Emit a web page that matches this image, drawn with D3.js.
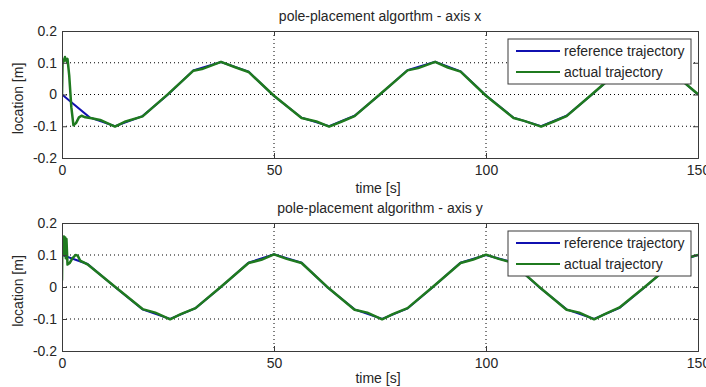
<!DOCTYPE html>
<html>
<head>
<meta charset="utf-8">
<script src="https://cdn.jsdelivr.net/npm/d3@7"></script>
<style>
  body { margin: 0; background: #fff; }
  svg { display: block; font-family: 'Liberation Sans', Arial, sans-serif; }
</style>
</head>
<body>
<div id="chart"></div>
<script>
// tick labels
const xTicks = [0, 50, 100, 150]
const yTicks = [-0.2, -0.1, 0, 0.1, 0.2]
const legendLabels = ['reference trajectory', 'actual trajectory']
const titles = ['pole-placement algorthm - axis x', 'pole-placement algorithm - axis y']

// axis x: [time, location]
const refX = [
  [0, 0], [6.5, -0.072], [12.5, -0.1], [19, -0.068], [25, 0], [31, 0.076],
  [37.5, 0.102], [44, 0.072], [50, -0.005], [56.5, -0.073], [63, -0.1],
  [69, -0.067], [75, 0], [81.5, 0.077], [88, 0.103], [94, 0.073], [100, -0.003],
  [106.5, -0.073], [113, -0.1], [119, -0.067], [125, 0], [131, 0.07],
  [137.5, 0.1], [144, 0.07], [150, 0]
]
const actX = [
  [0, 0.0], [0.15, 0.11], [0.4, 0.104], [0.7, 0.118], [1.0, 0.106], [1.3, 0.112],
  [1.7, 0.06], [2.2, -0.04], [2.7, -0.097], [3.3, -0.09], [4.0, -0.072],
  [4.6, -0.067], [5.5, -0.072], [7, -0.075], [9, -0.08], [12.5, -0.101],
  [15, -0.085], [19, -0.069], [25, 0.001], [31, 0.075], [33, 0.08],
  [37.5, 0.103], [41, 0.085], [44, 0.071], [50, -0.004], [56.5, -0.074],
  [60, -0.085], [63, -0.101], [66, -0.085], [69, -0.068], [75, 0.001],
  [81.5, 0.076], [84, 0.083], [88, 0.103], [91, 0.085], [94, 0.072],
  [100, -0.004], [106.5, -0.074], [109, -0.083], [113, -0.101], [116, -0.085],
  [119, -0.068], [125, 0.001], [131, 0.071], [137.5, 0.101], [144, 0.069],
  [150, 0.001]
]

// axis y: [time, location]
const refY = [
  [0, 0.1], [6, 0.072], [12.5, 0], [19, -0.07], [25.5, -0.1], [31.5, -0.066],
  [37.5, 0], [44, 0.076], [50, 0.102], [56.5, 0.076], [62.5, 0], [69, -0.07],
  [75.5, -0.1], [81.5, -0.067], [87.5, 0], [94, 0.076], [100, 0.1],
  [106, 0.078], [112.5, 0], [119, -0.07], [125.5, -0.1], [131.5, -0.065],
  [137.5, 0], [144, 0.074], [150, 0.1]
]
const actY = [
  [0, 0.02], [0.1, 0.157], [0.3, 0.12], [0.45, 0.158], [0.6, 0.1], [0.75, 0.155],
  [0.9, 0.09], [1.05, 0.15], [1.3, 0.07], [1.8, 0.075], [2.5, 0.09], [3.2, 0.1],
  [3.7, 0.098], [4.3, 0.082], [5, 0.078], [6, 0.071], [12.5, 0.001],
  [19, -0.069], [22, -0.08], [25.5, -0.101], [28, -0.085], [31.5, -0.066],
  [37.5, 0.001], [44, 0.075], [47, 0.085], [50, 0.102], [53, 0.088],
  [56.5, 0.075], [62.5, 0.001], [69, -0.071], [72, -0.08], [75.5, -0.101],
  [78, -0.085], [81.5, -0.066], [87.5, 0.001], [94, 0.075], [97, 0.086],
  [100, 0.101], [103, 0.088], [106, 0.077], [112.5, 0.001], [119, -0.071],
  [122, -0.08], [125.5, -0.101], [128, -0.085], [131.5, -0.064], [137.5, 0.001],
  [144, 0.073], [147, 0.09], [150, 0.1]
]

const width = 706
const height = 387
const frameColor = '#3a3a3a'
const textColor = '#262626'
const blue = '#1010b0'
const green = '#1f7a1f'
const fontSize = '14px'

const svg = d3.select('#chart').append('svg')
  .attr('width', width)
  .attr('height', height)

const panels = [
  {top: 31, bottom: 158, title: titles[0], ref: refX, act: actX, legendTop: 39, labelGap: 35},
  {top: 223, bottom: 351, title: titles[1], ref: refY, act: actY, legendTop: 231, labelGap: 32}
]

const left = 62
const right = 698

const fmt = (d) => d === 0 ? '0' : String(d)

panels.forEach((p, i) => {
  const x = d3.scaleLinear().domain([0, 150]).range([left, right])
  const y = d3.scaleLinear().domain([-0.2, 0.2]).range([p.bottom, p.top])
  const g = svg.append('g')

  g.append('rect')
    .attr('x', left).attr('y', p.top)
    .attr('width', right - left).attr('height', p.bottom - p.top)
    .attr('fill', '#fff')

  // dotted grid
  g.append('g').selectAll('line')
    .data(xTicks.slice(1, -1))
    .join('line')
    .attr('x1', d => x(d)).attr('x2', d => x(d))
    .attr('y1', p.top).attr('y2', p.bottom)
    .attr('stroke', '#000').attr('stroke-dasharray', '1,3')
  g.append('g').selectAll('line')
    .data(yTicks.slice(1, -1))
    .join('line')
    .attr('x1', left).attr('x2', right)
    .attr('y1', d => y(d)).attr('y2', d => y(d))
    .attr('stroke', '#000').attr('stroke-dasharray', '1,3')

  // curves
  const clipId = `clip${i}`
  svg.append('clipPath').attr('id', clipId)
    .append('rect')
    .attr('x', left).attr('y', p.top)
    .attr('width', right - left).attr('height', p.bottom - p.top)

  const line = d3.line().x(d => x(d[0])).y(d => y(d[1]))
  g.append('path')
    .datum(p.ref)
    .attr('clip-path', `url(#${clipId})`)
    .attr('fill', 'none').attr('stroke', blue).attr('stroke-width', 2)
    .attr('d', line)
  g.append('path')
    .datum(p.act)
    .attr('clip-path', `url(#${clipId})`)
    .attr('fill', 'none').attr('stroke', green).attr('stroke-width', 2.5)
    .attr('stroke-linejoin', 'round')
    .attr('d', line)

  // axes, ticks inward
  const xAxis = g.append('g')
    .attr('transform', `translate(0,${p.bottom})`)
    .call(d3.axisBottom(x).tickValues(xTicks).tickSize(-5).tickPadding(7).tickFormat(fmt))
  g.append('g')
    .attr('transform', `translate(0,${p.top})`)
    .call(d3.axisTop(x).tickValues(xTicks).tickSize(-5).tickFormat(''))
  g.append('g')
    .attr('transform', `translate(${left},0)`)
    .call(d3.axisLeft(y).tickValues(yTicks).tickSize(-5).tickPadding(5).tickFormat(fmt))
  g.append('g')
    .attr('transform', `translate(${right},0)`)
    .call(d3.axisRight(y).tickValues(yTicks).tickSize(-5).tickFormat(''))

  g.selectAll('.domain').attr('stroke', frameColor)
  g.selectAll('.tick line').attr('stroke', frameColor)
  g.selectAll('.tick text')
    .attr('fill', textColor)
    .style('font-size', fontSize)
  xAxis.selectAll('.tick text').attr('dy', '0.71em')

  // titles and labels
  g.append('text')
    .attr('x', (left + right) / 2).attr('y', p.top - 10.5)
    .attr('text-anchor', 'middle')
    .attr('fill', textColor).style('font-size', fontSize)
    .text(p.title)
  g.append('text')
    .attr('x', (left + right) / 2 - 2).attr('y', p.bottom + p.labelGap)
    .attr('text-anchor', 'middle')
    .attr('fill', textColor).style('font-size', fontSize)
    .text('time [s]')
  g.append('text')
    .attr('transform', `translate(23,${(p.top + p.bottom) / 2 + 4}) rotate(-90)`)
    .attr('text-anchor', 'middle')
    .attr('fill', textColor).style('font-size', fontSize)
    .text('location [m]')

  // legend
  const lg = g.append('g').attr('transform', `translate(508,${p.legendTop})`)
  lg.append('rect')
    .attr('width', 183).attr('height', 45)
    .attr('fill', '#fff').attr('stroke', frameColor)
  lg.selectAll('g.item')
    .data(legendLabels)
    .join('g')
    .attr('class', 'item')
    .attr('transform', (d, j) => `translate(0,${12 + j * 21})`)
    .each(function (d, j) {
      const item = d3.select(this)
      item.append('line')
        .attr('x1', 8).attr('x2', 52)
        .attr('stroke', j === 0 ? blue : green).attr('stroke-width', 2)
      item.append('text')
        .attr('x', 56).attr('dy', '0.35em')
        .attr('fill', textColor).style('font-size', fontSize)
        .text(d)
    })
})
</script>
</body>
</html>
